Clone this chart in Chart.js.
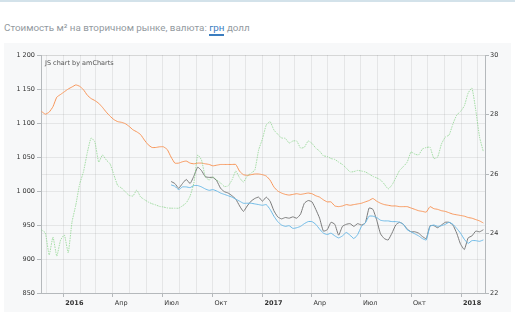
<!DOCTYPE html>
<html lang="ru">
<head>
<meta charset="utf-8">
<title>Стоимость м² на вторичном рынке</title>
<script src="https://cdn.jsdelivr.net/npm/chart.js@4/dist/chart.umd.min.js"></script>
<style>
  html, body { margin: 0; padding: 0; background: #fff; }
  body { width: 515px; height: 329px; position: relative; overflow: hidden; }
  .topline { position: absolute; left: 0; top: 0; width: 515px; height: 2px; background: #d3e2ea; }
  .title {
    position: absolute; left: 4px; top: 22px;
    font: 9.8px Roboto, sans-serif; color: #939aa0; white-space: nowrap;
  }
  .title .active { color: #3b7dbf; border-bottom: 2px solid #3b7dbf; padding-bottom: 1px; }
  .box { position: absolute; left: 4px; top: 43px; width: 507px; height: 269px; background: #f7f8f9; }
  .credit { position: absolute; left: 45px; top: 59px; font: 6.5px "DejaVu Sans", sans-serif; color: #555; }
  #chart { position: absolute; left: 0; top: 0; }
</style>
</head>
<body>
<div class="topline"></div>
<div class="title">Стоимость м² на вторичном рынке, валюта: <span class="active">грн</span> долл</div>
<div class="box"></div>
<canvas id="chart" width="515" height="329"></canvas>
<div class="credit">JS chart by amCharts</div>

<script>
// ============================================================
// DATA (weekly points)
// ============================================================

const weekDates = [
    '2015-11-22', '2015-11-29', '2015-12-06', '2015-12-13', '2015-12-20', '2015-12-27',
    '2016-01-03', '2016-01-10', '2016-01-17', '2016-01-24', '2016-01-31',
    '2016-02-07', '2016-02-14', '2016-02-21', '2016-02-28',
    '2016-03-06', '2016-03-13', '2016-03-20', '2016-03-27',
    '2016-04-03', '2016-04-10', '2016-04-17', '2016-04-24',
    '2016-05-01', '2016-05-08', '2016-05-15', '2016-05-22', '2016-05-29',
    '2016-06-05', '2016-06-12', '2016-06-19', '2016-06-26',
    '2016-07-03', '2016-07-10', '2016-07-17', '2016-07-24', '2016-07-31',
    '2016-08-07', '2016-08-14', '2016-08-21', '2016-08-28',
    '2016-09-04', '2016-09-11', '2016-09-18', '2016-09-25',
    '2016-10-02', '2016-10-09', '2016-10-16', '2016-10-23', '2016-10-30',
    '2016-11-06', '2016-11-13', '2016-11-20', '2016-11-27',
    '2016-12-04', '2016-12-11', '2016-12-18', '2016-12-25',
    '2017-01-01', '2017-01-08', '2017-01-15', '2017-01-22', '2017-01-29',
    '2017-02-05', '2017-02-12', '2017-02-19', '2017-02-26',
    '2017-03-05', '2017-03-12', '2017-03-19', '2017-03-26',
    '2017-04-02', '2017-04-09', '2017-04-16', '2017-04-23', '2017-04-30',
    '2017-05-07', '2017-05-14', '2017-05-21', '2017-05-28',
    '2017-06-04', '2017-06-11', '2017-06-18', '2017-06-25',
    '2017-07-02', '2017-07-09', '2017-07-16', '2017-07-23', '2017-07-30',
    '2017-08-06', '2017-08-13', '2017-08-20', '2017-08-27',
    '2017-09-03', '2017-09-10', '2017-09-17', '2017-09-24',
    '2017-10-01', '2017-10-08', '2017-10-15', '2017-10-22', '2017-10-29',
    '2017-11-05', '2017-11-12', '2017-11-19', '2017-11-26',
    '2017-12-03', '2017-12-10', '2017-12-17', '2017-12-24', '2017-12-31',
    '2018-01-07', '2018-01-14', '2018-01-21', '2018-01-28',
    '2018-02-04', '2018-02-11'
];

// orange line, left axis (грн/м²)
const priceAll = [
    1117, 1113, 1116, 1124, 1138, 1142, 1146, 1150, 1153, 1156,
    1154, 1149, 1141, 1136, 1133, 1129, 1123, 1116, 1110, 1105,
    1102, 1101, 1099, 1095, 1090, 1087, 1083, 1075, 1068, 1064,
    1064, 1065, 1065, 1061, 1050, 1041, 1041, 1043, 1044, 1041,
    1040, 1041, 1041, 1040, 1039, 1037, 1038, 1039, 1039, 1039,
    1039, 1039, 1029, 1024, 1023, 1024, 1025, 1025, 1024, 1022,
    1016, 1006, 1000, 997, 995, 994, 995, 996, 995, 996,
    997, 996, 993, 991, 987, 984, 984, 978, 977, 978,
    980, 979, 980, 981, 982, 984, 986, 989, 985, 982,
    980, 979, 978, 978, 977, 977, 977, 975, 973, 971,
    970, 969, 977, 974, 973, 971, 970, 968, 966, 965,
    964, 963, 961, 960, 958, 956, 953
];

// green dotted line, right axis (курс)
const usdRate = [
    24.12, 24.02, 23.28, 23.88, 23.24, 23.78, 23.95, 23.35, 24.39, 24.96,
    25.66, 26.07, 26.71, 27.21, 27.08, 26.40, 26.64, 26.47, 26.34, 25.97,
    25.61, 25.53, 25.40, 25.28, 25.26, 25.46, 25.23, 25.14, 25.06, 25.00,
    24.96, 24.91, 24.89, 24.86, 24.85, 24.85, 24.85, 24.93, 25.03, 25.26,
    25.70, 26.64, 26.47, 25.90, 25.80, 25.90, 25.80, 25.70, 25.58, 25.60,
    25.80, 26.10, 25.87, 25.73, 25.93, 26.03, 26.13, 26.81, 27.18, 27.65,
    27.76, 27.48, 27.34, 27.21, 27.20, 27.04, 27.11, 27.11, 26.87, 26.90,
    27.11, 27.03, 26.87, 26.77, 26.61, 26.59, 26.52, 26.49, 26.40, 26.32,
    26.20, 26.07, 26.08, 26.12, 26.10, 26.07, 26.00, 25.92, 25.87, 25.80,
    25.66, 25.50, 25.63, 25.87, 26.12, 26.25, 26.40, 26.74, 26.67, 26.64,
    26.84, 26.89, 26.90, 26.52, 26.57, 27.01, 27.24, 27.31, 27.68, 27.98,
    28.10, 28.29, 28.72, 28.89, 28.15, 27.24, 26.75
];

// the gray and blue lines begin later, at this index of weekDates
const listingsStart = 34;

// gray line, left axis
const priceGray = [
    1014, 1011, 1004, 1011, 1017, 1011,
    1022, 1035, 1030, 1021, 1020, 1020, 1015, 1004, 999, 997,
    993, 988, 978, 970, 978, 985, 989, 991, 985, 991,
    985, 971, 962, 959, 961, 960, 962, 960, 966, 982,
    986, 984, 973, 960, 941, 943, 954, 951, 935, 948,
    951, 952, 948, 952, 950, 953, 975, 973, 957, 937,
    930, 928, 938, 950, 954, 951, 944, 940, 940, 938,
    933, 930, 949, 949, 946, 950, 954, 954, 950, 938,
    922, 914, 931, 934, 941, 940, 943
];

// blue line, left axis
const priceBlue = [
    1009, 1007, 1002, 1006, 1006, 1005,
    1008, 1008, 1006, 1003, 1001, 1002, 1000, 997, 995, 993,
    991, 988, 985, 982, 982, 982, 981, 980, 979, 980,
    973, 963, 955, 950, 948, 949, 945, 946, 948, 952,
    955, 955, 951, 944, 938, 936, 938, 934, 931, 934,
    939, 935, 930, 936, 948, 953, 963, 963, 961, 957,
    956, 956, 955, 955, 954, 951, 943, 940, 937, 934,
    930, 928, 948, 950, 948, 949, 951, 954, 951, 945,
    938, 929, 923, 927, 927, 926, 928
];

// x axis: visible range, labelled ticks and monthly grid
const xRange = ['2015-11-21', '2018-02-14'];
const tickDates = ['2016-01-01', '2016-04-01', '2016-07-01', '2016-10-01',
                   '2017-01-01', '2017-04-01', '2017-07-01', '2017-10-01', '2018-01-01'];
const tickLabels = ['2016', 'Апр', 'Июл', 'Окт', '2017', 'Апр', 'Июл', 'Окт', '2018'];

// y axes
const leftRange = [850, 1200, 50];
const rightRange = [22, 30, 2];

// ============================================================
// HELPERS
// ============================================================

const colors = {
    orange: '#f7965a',
    green: 'rgba(130, 210, 130, 0.7)',
    gray: '#7a7a7a',
    blue: '#6cb9e6',
    grid: 'rgba(0, 0, 0, 0.07)',
    axis: '#b5b9bc',
    text: '#333'
};
const FONT = 'DejaVu Sans, Verdana, sans-serif';

// days since 2016-01-01
function toDay(str) {
    const p = str.split('-').map(Number);
    return (Date.UTC(p[0], p[1] - 1, p[2]) - Date.UTC(2016, 0, 1)) / 86400000;
}

function formatThousands(v) {
    return String(v).replace(/\B(?=(\d{3})+(?!\d))/g, ' ');
}

function points(values, offset) {
    return values.map((v, i) => ({ x: toDay(weekDates[i + offset]), y: v }));
}

// month starts inside the visible range, for the vertical grid
const monthTicks = [];
for (let y = 2015; y <= 2018; y++) {
    for (let m = 0; m < 12; m++) {
        const d = (Date.UTC(y, m, 1) - Date.UTC(2016, 0, 1)) / 86400000;
        if (d >= toDay(xRange[0]) && d <= toDay(xRange[1])) monthTicks.push(d);
    }
}
const tickDays = tickDates.map(toDay);

function labelFor(value) {
    const i = tickDays.indexOf(value);
    return i >= 0 ? tickLabels[i] : '';
}

// ============================================================
// CHART
// ============================================================

const lineBase = { pointRadius: 0, pointHoverRadius: 0, tension: 0.15, fill: false };

new Chart(document.getElementById('chart'), {
    type: 'line',
    data: {
        datasets: [
            { ...lineBase, label: 'Курс', data: points(usdRate, 0), yAxisID: 'yRight',
              borderColor: colors.green, borderWidth: 1, borderDash: [1.5, 1] },
            { ...lineBase, label: 'Все', data: points(priceAll, 0), yAxisID: 'y',
              borderColor: colors.orange, borderWidth: 1 },
            { ...lineBase, label: 'Синяя', data: points(priceBlue, listingsStart), yAxisID: 'y',
              borderColor: colors.blue, borderWidth: 1 },
            { ...lineBase, label: 'Серая', data: points(priceGray, listingsStart), yAxisID: 'y',
              borderColor: colors.gray, borderWidth: 1 }
        ]
    },
    options: {
        responsive: false,
        animation: false,
        devicePixelRatio: 1,
        layout: { padding: { top: 55, left: 0, right: 0, bottom: 0 } },
        plugins: { legend: { display: false }, tooltip: { enabled: false } },
        scales: {
            x: {
                type: 'linear',
                min: toDay(xRange[0]),
                max: toDay(xRange[1]),
                afterBuildTicks: scale => { scale.ticks = monthTicks.map(v => ({ value: v })); },
                afterFit: scale => { scale.height = 36; },
                grid: {
                    color: colors.grid,
                    tickLength: 4,
                    tickColor: ctx => (ctx.tick && labelFor(ctx.tick.value) ? colors.axis : 'transparent')
                },
                border: { display: true, color: colors.axis },
                ticks: {
                    autoSkip: false,
                    maxRotation: 0,
                    align: 'start',
                    labelOffset: 2,
                    padding: 2,
                    color: colors.text,
                    font: ctx => ({ family: FONT, size: 6.5,
                        weight: /^\d{4}$/.test(labelFor(ctx.tick ? ctx.tick.value : null)) ? 'bold' : 'normal' }),
                    callback: v => labelFor(v)
                }
            },
            y: {
                position: 'left',
                min: leftRange[0],
                max: leftRange[1],
                afterFit: scale => { scale.width = 41; },
                grid: { color: colors.grid, tickLength: 4, tickColor: colors.axis },
                border: { display: true, color: colors.axis },
                ticks: {
                    stepSize: leftRange[2],
                    padding: 2,
                    color: colors.text,
                    font: { family: FONT, size: 6.5 },
                    callback: v => formatThousands(v)
                }
            },
            yRight: {
                position: 'right',
                min: rightRange[0],
                max: rightRange[1],
                afterFit: scale => { scale.width = 30; },
                grid: { color: colors.grid, tickLength: 4, tickColor: colors.axis },
                border: { display: true, color: colors.axis },
                ticks: {
                    stepSize: rightRange[2],
                    padding: 1,
                    color: colors.text,
                    font: { family: FONT, size: 6.5 }
                }
            }
        }
    }
});
</script>
</body>
</html>
